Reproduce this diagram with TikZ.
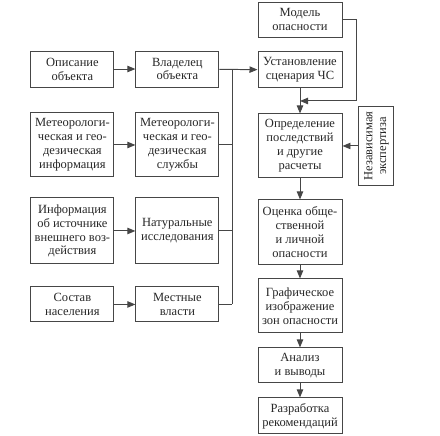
\documentclass[tikz,border=0pt]{standalone}
\usepackage{fontspec}
\setmainfont{Liberation Serif}
\usepackage{xcolor}
\usepackage{tikz}
\usetikzlibrary{positioning,arrows.meta,calc}
\definecolor{linegray}{RGB}{70,70,70}
\definecolor{textgray}{RGB}{40,40,40}
\tikzset{
    box/.style={draw=linegray, fill=white, line width=0.7pt, align=center, text=textgray, font=\fontsize{8.9}{9.9}\selectfont, minimum width=2.075cm, inner sep=1pt},
    arrow/.style={-{Triangle[length=2mm, width=1.6mm]}, line width=0.7pt, draw=linegray},
    wire/.style={draw=linegray, line width=0.7pt}
}
\begin{document}
\begin{tikzpicture}
\useasboundingbox (0,0) rectangle (11,-10.875);
% left column
\node[box, minimum height=0.9cm] (opis) at (1.81,-1.725) {Описание\\объекта};
\node[box, minimum height=1.6cm, below=0.625cm of opis] (meteoinf) {Метеорологи-\\ческая и гео-\\дезическая\\информация};
\node[box, minimum height=1.65cm, below=0.5cm of meteoinf] (ist) {Информация\\об источнике\\внешнего воз-\\действия};
\node[box, minimum height=0.875cm, below=0.55cm of ist] (sostav) {Состав\\населения};
% middle column
\node[box, minimum height=0.9cm, right=0.525cm of opis] (vlad) {Владелец\\объекта};
\node[box, minimum height=1.6cm, right=0.525cm of meteoinf] (meteosl) {Метеорологи-\\ческая и гео-\\дезическая\\службы};
\node[box, minimum height=1.65cm, right=0.525cm of ist] (natur) {Натуральные\\исследования};
\node[box, minimum height=0.875cm, right=0.525cm of sostav] (vlast) {Местные\\власти};
% right column
\node[box, minimum width=2.1cm, minimum height=0.875cm] (model) at (7.5,-0.4875) {Модель\\опасности};
\node[box, minimum width=2.1cm, minimum height=0.9cm, below=0.35cm of model] (scen) {Установление\\сценария ЧС};
\node[box, minimum width=2.1cm, minimum height=1.6cm, below=0.625cm of scen] (posl) {Определение\\последствий\\и другие\\расчеты};
\node[box, minimum width=2.1cm, minimum height=1.625cm, below=0.525cm of posl] (ocen) {Оценка обще-\\ственной\\и личной\\опасности};
\node[box, minimum width=2.1cm, minimum height=1.35cm, below=0.325cm of ocen] (graf) {Графическое\\изображение\\зон опасности};
\node[box, minimum width=2.1cm, minimum height=0.875cm, below=0.35cm of graf] (anal) {Анализ\\и выводы};
\node[box, minimum width=2.1cm, minimum height=0.9cm, below=0.35cm of anal] (rek) {Разработка\\рекомендаций};
\node[box, minimum width=1.975cm, minimum height=0.875cm, rotate=90, anchor=north] (eksp) at ([xshift=0.4cm]posl.east) {Независимая\\экспертиза};
\coordinate (bus) at (5.8,0);
\coordinate (join) at ($(scen.south)!0.5!(posl.north)$);

\draw[arrow] (opis) -- (vlad);
\draw[arrow] (meteoinf) -- (meteosl);
\draw[arrow] (ist) -- (natur);
\draw[arrow] (sostav) -- (vlast);
\draw[arrow] (vlad) -- (scen);
\draw[wire] (bus |- vlad.east) -- (bus |- vlast.east);
\foreach \n in {meteosl,natur,vlast}
    \draw[wire] (\n.east) -- (bus |- \n.east);
\draw[arrow] (model.east) -- ++(0.35,0) |- (join);
\draw[arrow] (scen) -- (posl);
\draw[arrow] (eksp.north) -- (posl.east);
\draw[arrow] (posl) -- (ocen);
\draw[arrow] (ocen) -- (graf);
\draw[arrow] (graf) -- (anal);
\draw[arrow] (anal) -- (rek);
\end{tikzpicture}
\end{document}
